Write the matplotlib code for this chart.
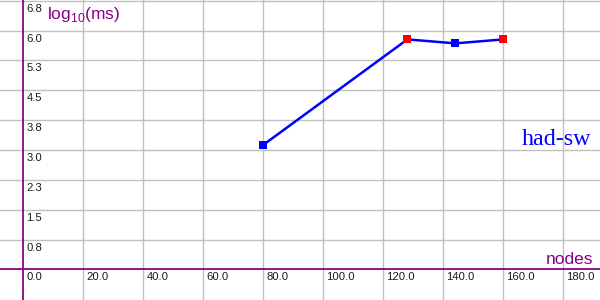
import numpy as np
import matplotlib
matplotlib.use("Agg")
import matplotlib.pyplot as plt
import matplotlib.transforms as mtransforms

# ---------------------------------------------------------------
# data
nodes = [80, 128, 144, 160]
log_ms = [3.13, 5.78, 5.68, 5.78]
point_kind = ["blue", "red", "blue", "red"]

x_ticks = [0, 20, 40, 60, 80, 100, 120, 140, 160, 180]
x_tick_labels = ["0.0", "20.0", "40.0", "60.0", "80.0", "100.0", "120.0", "140.0", "160.0", "180.0"]
y_ticks = [0.75, 1.5, 2.25, 3.0, 3.75, 4.5, 5.25, 6.0, 6.75]
y_tick_labels = ["0.8", "1.5", "2.3", "3.0", "3.8", "4.5", "5.3", "6.0", "6.8"]

series_name = "had-sw"
# ---------------------------------------------------------------
plt.rcParams['mathtext.fontset'] = 'custom'
plt.rcParams['mathtext.rm'] = 'Liberation Sans'

purple = '#880088'
grid_col = '#c0c0c0'

fig = plt.figure(figsize=(6, 3), dpi=100)
ax = fig.add_axes([0, 0, 1, 1])
ax.set_xlim(-7.78, 192.2)
ax.set_ylim(-0.77, 6.77)

# grid
for xv in x_ticks[1:]:
    ax.axvline(xv, color=grid_col, lw=1.0, zorder=0)
for yv in y_ticks:
    ax.axhline(yv, color=grid_col, lw=1.0, zorder=0)

# axes through origin
for side in ['top', 'right']:
    ax.spines[side].set_visible(False)
ax.spines['left'].set_position(('data', 0))
ax.spines['bottom'].set_position(('data', 0))
ax.spines['left'].set_color(purple)
ax.spines['bottom'].set_color(purple)
ax.spines['left'].set_linewidth(1.3)
ax.spines['bottom'].set_linewidth(1.3)
ax.set_xticks([])
ax.set_yticks([])

# tick labels, drawn just right/below the grid lines
off_x = mtransforms.offset_copy(ax.transData, fig=fig, x=3, y=-3, units='dots')
for xv, lab in zip(x_ticks, x_tick_labels):
    ax.text(xv, 0, lab, transform=off_x, ha='left', va='top',
            fontsize=8.1, family='Liberation Sans', color='#1a1a1a')
for yv, lab in zip(y_ticks, y_tick_labels):
    ax.text(0, yv, lab, transform=off_x, ha='left', va='top',
            fontsize=8.1, family='Liberation Sans', color='#1a1a1a')

# axis titles
ax.text(47 / 600, 1 - 19 / 300, r"log$_{10}$(ms)", transform=ax.transAxes,
        ha='left', va='baseline', fontsize=12.5, family='Liberation Sans', color=purple)
ax.text(593 / 600, 1 - 264 / 300, "nodes", transform=ax.transAxes,
        ha='right', va='baseline', fontsize=12.5, family='Liberation Sans', color=purple)

# the series
ax.plot(nodes, log_ms, color='#0000ff', lw=1.8, zorder=3)
marker_cols = {"blue": '#0000ff', "red": '#ff0000'}
ax.scatter(nodes, log_ms, marker='s', s=34, c=[marker_cols[k] for k in point_kind],
           edgecolors='none', zorder=4)
ax.text(591 / 600, 1 - 145 / 300, series_name, transform=ax.transAxes,
        ha='right', va='baseline', fontsize=17.3, family='Liberation Serif', color='#0000ff')

fig.savefig("out.png", dpi=100)
